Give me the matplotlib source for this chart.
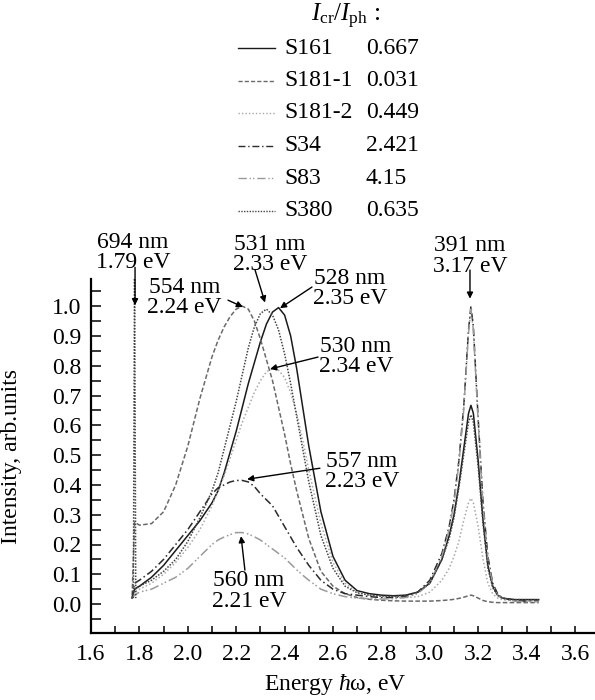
import matplotlib
matplotlib.use('Agg')
import matplotlib.pyplot as plt
from matplotlib.lines import Line2D
from matplotlib.ticker import MultipleLocator

plt.rcParams['font.family'] = ['Liberation Serif', 'DejaVu Serif']
plt.rcParams['mathtext.fontset'] = 'custom'
plt.rcParams['mathtext.rm'] = 'Liberation Serif'
plt.rcParams['mathtext.it'] = 'Liberation Serif:italic'
FS = 17

# photon energy grid, eV
ENERGY = [1.77, 1.78, 1.80, 1.85, 1.90, 1.95, 2.00, 2.05,
          2.100, 2.125, 2.150, 2.175, 2.200, 2.225, 2.250, 2.275, 2.300,
          2.325, 2.350, 2.375, 2.400, 2.425, 2.450, 2.475, 2.500,
          2.55, 2.60, 2.65, 2.70, 2.75, 2.80, 2.85, 2.90, 2.95,
          3.00, 3.05, 3.08, 3.10, 3.12, 3.14, 3.16, 3.17, 3.18, 3.20, 3.22, 3.24, 3.26,
          3.28, 3.30, 3.35, 3.40, 3.45]

S161 = [0.02, 0.05, 0.06, 0.09, 0.13, 0.18, 0.23, 0.28,
        0.34, 0.38, 0.44, 0.51, 0.58, 0.66, 0.74, 0.81, 0.88,
        0.94, 0.98, 0.995, 0.97, 0.90, 0.79, 0.66, 0.53,
        0.31, 0.16, 0.08, 0.045, 0.035, 0.03, 0.028, 0.03, 0.04,
        0.07, 0.15, 0.23, 0.30, 0.40, 0.52, 0.64, 0.667, 0.64, 0.48, 0.28, 0.13, 0.06,
        0.03, 0.02, 0.015, 0.015, 0.015]
S181_1 = [0.03, 0.275, 0.265, 0.27, 0.31, 0.40, 0.53, 0.69,
          0.83, 0.885, 0.93, 0.965, 0.99, 1.0, 0.99, 0.95, 0.89,
          0.82, 0.75, 0.66, 0.57, 0.47, 0.38, 0.30, 0.22,
          0.11, 0.06, 0.035, 0.022, 0.016, 0.013, 0.011, 0.01, 0.01,
          0.01, 0.012, 0.014, 0.016, 0.019, 0.023, 0.028, 0.03, 0.028, 0.02, 0.012, 0.008,
          0.006, 0.005, 0.005, 0.005, 0.005, 0.005]
S181_2 = [0.02, 0.04, 0.05, 0.07, 0.10, 0.14, 0.19, 0.25,
          0.33, 0.38, 0.43, 0.49, 0.55, 0.61, 0.66, 0.71, 0.75,
          0.78, 0.79, 0.785, 0.76, 0.71, 0.64, 0.55, 0.45,
          0.27, 0.14, 0.07, 0.04, 0.03, 0.025, 0.022, 0.022, 0.025,
          0.04, 0.08, 0.12, 0.16, 0.21, 0.28, 0.34, 0.355, 0.34, 0.26, 0.15, 0.07, 0.035,
          0.02, 0.015, 0.01, 0.01, 0.01]
S34 = [0.02, 0.07, 0.08, 0.11, 0.15, 0.20, 0.25, 0.31,
       0.37, 0.39, 0.40, 0.41, 0.415, 0.415, 0.41, 0.395, 0.37,
       0.35, 0.33, 0.295, 0.26, 0.225, 0.19, 0.16, 0.13,
       0.08, 0.05, 0.035, 0.03, 0.025, 0.022, 0.022, 0.025, 0.04,
       0.08, 0.17, 0.26, 0.35, 0.48, 0.66, 0.92, 1.0, 0.93, 0.62, 0.34, 0.16, 0.07,
       0.035, 0.02, 0.012, 0.01, 0.01]
S83 = [0.02, 0.03, 0.04, 0.05, 0.07, 0.09, 0.12, 0.16,
       0.20, 0.215, 0.225, 0.233, 0.24, 0.24, 0.235, 0.226, 0.215,
       0.20, 0.185, 0.17, 0.155, 0.135, 0.115, 0.097, 0.08,
       0.05, 0.035, 0.025, 0.02, 0.018, 0.017, 0.018, 0.022, 0.035,
       0.07, 0.16, 0.25, 0.34, 0.47, 0.65, 0.91, 0.99, 0.92, 0.61, 0.33, 0.15, 0.065,
       0.03, 0.018, 0.01, 0.008, 0.008]
S380 = [0.02, 0.05, 0.06, 0.08, 0.11, 0.15, 0.21, 0.29,
        0.38, 0.44, 0.52, 0.60, 0.68, 0.77, 0.86, 0.93, 0.975,
        0.99, 0.97, 0.92, 0.84, 0.74, 0.63, 0.52, 0.41,
        0.23, 0.12, 0.06, 0.038, 0.03, 0.027, 0.026, 0.028, 0.04,
        0.07, 0.15, 0.22, 0.29, 0.39, 0.50, 0.61, 0.635, 0.61, 0.46, 0.27, 0.12, 0.055,
        0.03, 0.02, 0.015, 0.015, 0.015]
# narrow 694 nm line
LASER_E = [1.775, 1.780, 1.785]
LASER_I = [0.02, 1.15, 0.02]

NAMES = ['S161', 'S181-1', 'S181-2', 'S34', 'S83', 'S380']
RATIOS = ['0.667', '0.031', '0.449', '2.421', '4.15', '0.635']
SERIES = [S161, S181_1, S181_2, S34, S83, S380]

STYLES = [dict(ls='-', color='#1a1a1a', lw=1.1),
          dict(ls=(0, (3, 1.5)), color='#6a6a6a', lw=1.1),
          dict(ls=(0, (1, 1.5)), color='#a8a8a8', lw=1.1),
          dict(ls=(0, (5, 2, 1, 2)), color='#2a2a2a', lw=1.1),
          dict(ls=(0, (6, 2, 1, 1.5, 1, 2)), color='#9a9a9a', lw=1.1),
          dict(ls=(0, (1, 1)), color='#444444', lw=1.1)]

# peak labels: text, text centre, arrow tail, arrow head (data coords)
PEAK_TEXT = ['694 nm\n1.79 eV', '531 nm\n2.33 eV', '554 nm\n2.24 eV', '528 nm\n2.35 eV',
             '530 nm\n2.34 eV', '391 nm\n3.17 eV', '557 nm\n2.23 eV', '560 nm\n2.21 eV']
TEXT_XY = [(1.774, 1.18), (2.340, 1.172), (1.987, 1.03), (2.670, 1.06),
           (2.695, 0.83), (3.166, 1.168), (2.720, 0.446), (2.253, 0.044)]
ARROW_TAIL = [(1.782, 1.13), (2.278, 1.121), (2.166, 1.02), (2.513, 1.064),
              (2.538, 0.829), (3.166, 1.121), (2.546, 0.456), (2.236, 0.114)]
ARROW_HEAD = [(1.782, 1.003), (2.319, 1.012), (2.228, 0.997), (2.381, 0.993),
              (2.340, 0.789), (3.166, 1.025), (2.245, 0.419), (2.220, 0.228)]

W, H = 595, 700
fig = plt.figure(figsize=(W / 100, H / 100), dpi=100)
ax = fig.add_axes([91 / W, 1 - 633 / H, (W - 91) / W, (633 - 279) / H])

for ser, st in zip(SERIES, STYLES):
   ax.plot(ENERGY, ser, **st)
ax.plot(LASER_E, LASER_I, **STYLES[5])

for txt, txy, tail, head in zip(PEAK_TEXT, TEXT_XY, ARROW_TAIL, ARROW_HEAD):
   ax.text(txy[0], txy[1], txt, ha='center', va='center', fontsize=FS,
           linespacing=0.95, clip_on=False)
   ax.annotate('', xy=head, xytext=tail, annotation_clip=False,
               arrowprops=dict(arrowstyle='-|>', color='k', lw=1.0,
                               mutation_scale=9, shrinkA=0, shrinkB=0))

ax.set_xlim(1.6, 1.6 + (W - 91) / 242)
ax.set_ylim(-0.097, 1.091)
ax.spines['top'].set_visible(False)
ax.spines['right'].set_visible(False)
for sp in ['left', 'bottom']:
   ax.spines[sp].set_linewidth(1.6)
ax.xaxis.set_major_locator(MultipleLocator(0.2))
ax.xaxis.set_minor_locator(MultipleLocator(0.1))
ax.yaxis.set_major_locator(MultipleLocator(0.1))
ax.yaxis.set_minor_locator(MultipleLocator(0.05))
ax.xaxis.set_major_formatter(lambda v, p: '%.1f' % v)
ax.yaxis.set_major_formatter(lambda v, p: '%.1f' % v)
ax.tick_params(axis='x', which='both', direction='in', length=5, width=1.1, labelsize=FS, pad=8)
ax.tick_params(axis='y', which='both', direction='in', length=7, width=1.1, labelsize=FS, pad=7)
ax.set_xticks([t / 10 for t in range(16, 37, 2)])
ax.set_yticks([t / 10 for t in range(0, 11)])

ax.set_xlabel(r'Energy $\mathit{\hbar}$ω, eV', fontsize=FS)
ax.xaxis.set_label_coords(0.484, -0.11)
ax.set_ylabel('Intensity, arb.units', fontsize=FS)
ax.yaxis.set_label_coords(-0.137, 0.5)

# legend block at top
fx = lambda x: x / W
fy = lambda y: 1 - y / H
fig.text(fx(311), fy(16), r'$I_\mathrm{cr}/I_\mathrm{ph}$ :', fontsize=FS + 1, va='center')
for i, (nm, rt, st) in enumerate(zip(NAMES, RATIOS, STYLES)):
   yy = 48 + i * 32.5
   fig.add_artist(Line2D([fx(238), fx(275)], [fy(yy), fy(yy)], transform=fig.transFigure,
                         ls=st['ls'], color=st['color'], lw=1.0))
   fig.text(fx(284), fy(yy), nm, fontsize=FS, va='center')
   fig.text(fx(366), fy(yy), rt, fontsize=FS, va='center')

fig.savefig('out.png', dpi=100)
